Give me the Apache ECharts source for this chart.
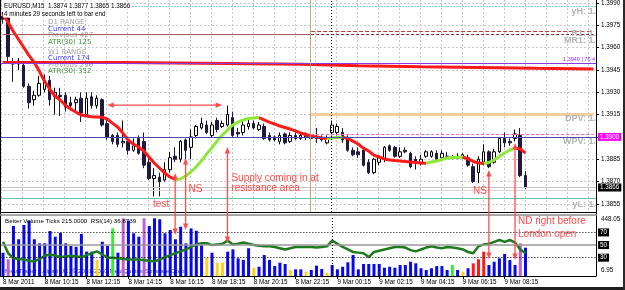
<!DOCTYPE html>
<html>
<head>
<meta charset="utf-8">
<script src="https://cdn.jsdelivr.net/npm/echarts@6.0.0/dist/echarts.min.js"></script>
<style>
html,body{margin:0;padding:0;background:#fff;overflow:hidden}
#chart{width:625px;height:290px}
</style>
</head>
<body>
<div id="chart"></div>
<script>
// ---------------- data ----------------
const xTickLabels = ['8 Mar 2011','8 Mar 10:15','8 Mar 12:15','8 Mar 14:15','8 Mar 16:15','8 Mar 18:15','8 Mar 20:15','8 Mar 22:15','9 Mar 00:15','9 Mar 02:15','9 Mar 04:15','9 Mar 06:15','9 Mar 08:15'];
const priceTickLabels = ['1.3855','1.3870','1.3885','1.3900','1.3915','1.3930','1.3945','1.3960','1.3975','1.3990'];

const open = [1.3981,1.3980,1.3950,1.3949,1.3948,1.3934,1.3925,1.3928,1.3932,1.3938,
 1.3927,1.3928,1.3928,1.3923,1.3923,1.3926,1.3915,1.3927,1.3921,1.3925,
 1.3909,1.3901,1.3901,1.3896,1.3897,1.3891,1.3899,1.3897,1.3883,1.3872,
 1.3873,1.3871,1.3878,1.3887,1.3885,1.3898,1.3893,1.3901,1.3906,1.3908,
 1.3901,1.3911,1.3907,1.3908,1.3913,1.3903,1.3903,1.3907,1.3909,1.3905,
 1.3907,1.3901,1.3900,1.3897,1.3902,1.3897,1.3901,1.3899,1.3900,1.3901,
 1.3900,1.3899,1.3896,1.3903,1.3903,1.3903,1.3899,1.3891,1.3890,1.3891,
 1.3883,1.3876,1.3883,1.3885,1.3894,1.3893,1.3887,1.3891,1.3889,1.3885,
 1.3882,1.3887,1.3887,1.3889,1.3886,1.3887,1.3887,1.3886,1.3886,1.3886,
 1.3880,1.3876,1.3883,1.3890,1.3883,1.3890,1.3899,1.3897,1.3899,1.3901,
 1.3874];
const close = [1.3979,1.3954,1.3949,1.3951,1.3934,1.3923,1.3928,1.3936,1.3938,1.3925,
 1.3930,1.3927,1.3920,1.3921,1.3925,1.3916,1.3926,1.3921,1.3926,1.3908,
 1.3900,1.3897,1.3895,1.3897,1.3891,1.3894,1.3889,1.3881,1.3872,1.3874,
 1.3870,1.3878,1.3886,1.3885,1.3897,1.3891,1.3900,1.3907,1.3909,1.3903,
 1.3908,1.3905,1.3909,1.3915,1.3901,1.3902,1.3908,1.3909,1.3906,1.3908,
 1.3899,1.3898,1.3898,1.3901,1.3896,1.3901,1.3899,1.3901,1.3901,1.3899,
 1.3899,1.3898,1.3899,1.3908,1.3907,1.3898,1.3891,1.3888,1.3888,1.3881,
 1.3876,1.3885,1.3886,1.3893,1.3891,1.3887,1.3890,1.3890,1.3880,1.3883,
 1.3885,1.3890,1.3890,1.3885,1.3889,1.3887,1.3886,1.3887,1.3888,1.3881,
 1.3870,1.3885,1.3890,1.3880,1.3890,1.3899,1.3896,1.3896,1.3902,1.3874,
 1.3866];
const low = [1.3976,1.3950,1.3937,1.3945,1.3933,1.3919,1.3921,1.3927,1.3930,1.3921,
 1.3915,1.3914,1.3917,1.3918,1.3916,1.3910,1.3914,1.3919,1.3919,1.3907,
 1.3898,1.3895,1.3893,1.3893,1.3888,1.3890,1.3888,1.3879,1.3871,1.3860,
 1.3860,1.3870,1.3876,1.3883,1.3883,1.3885,1.3885,1.3899,1.3905,1.3902,
 1.3900,1.3903,1.3906,1.3907,1.3900,1.3900,1.3901,1.3905,1.3905,1.3904,
 1.3898,1.3897,1.3897,1.3895,1.3895,1.3896,1.3898,1.3898,1.3898,1.3898,
 1.3896,1.3897,1.3895,1.3901,1.3901,1.3896,1.3890,1.3887,1.3886,1.3880,
 1.3875,1.3875,1.3881,1.3883,1.3890,1.3886,1.3886,1.3889,1.3879,1.3878,
 1.3881,1.3886,1.3886,1.3884,1.3885,1.3885,1.3885,1.3885,1.3885,1.3880,
 1.3869,1.3869,1.3881,1.3879,1.3882,1.3889,1.3893,1.3894,1.3897,1.3873,
 1.3865];
const high = [1.3984,1.3982,1.3953,1.3953,1.3950,1.3936,1.3931,1.3941,1.3942,1.3941,
 1.3933,1.3933,1.3930,1.3927,1.3927,1.3930,1.3930,1.3930,1.3928,1.3926,
 1.3913,1.3902,1.3903,1.3911,1.3898,1.3899,1.3901,1.3903,1.3886,1.3879,
 1.3876,1.3883,1.3890,1.3893,1.3898,1.3899,1.3905,1.3908,1.3913,1.3911,
 1.3910,1.3913,1.3911,1.3921,1.3917,1.3906,1.3911,1.3913,1.3911,1.3910,
 1.3909,1.3903,1.3901,1.3903,1.3903,1.3903,1.3903,1.3903,1.3903,1.3904,
 1.3906,1.3901,1.3901,1.3911,1.3909,1.3906,1.3901,1.3893,1.3893,1.3893,
 1.3885,1.3886,1.3888,1.3894,1.3895,1.3894,1.3893,1.3893,1.3890,1.3887,
 1.3888,1.3891,1.3891,1.3891,1.3891,1.3890,1.3888,1.3889,1.3889,1.3888,
 1.3882,1.3887,1.3895,1.3891,1.3892,1.3900,1.3903,1.3899,1.3905,1.3906,
 1.3877];
const maValues = [1.39826,1.39772,1.39712,1.39658,1.39604,1.39550,1.39503,1.39443,1.39376,1.39322,
 1.39275,1.39248,1.39214,1.39188,1.39167,1.39147,1.39140,1.39135,1.39134,1.39133,
 1.39120,1.39093,1.39067,1.39026,1.38979,1.38952,1.38932,1.38905,1.38865,1.38825,
 1.38791,1.38757,1.38731,1.38714,1.38717,1.38737,1.38764,1.38798,1.38838,1.38885,
 1.38925,1.38972,1.39013,1.39046,1.39080,1.39100,1.39114,1.39124,1.39127,1.39130,
 1.39114,1.39100,1.39087,1.39073,1.39063,1.39053,1.39040,1.39026,1.39016,1.39006,
 1.38999,1.38993,1.38989,1.38993,1.38996,1.38999,1.38989,1.38972,1.38952,1.38925,
 1.38905,1.38878,1.38865,1.38852,1.38845,1.38841,1.38838,1.38835,1.38831,1.38828,
 1.38825,1.38823,1.38831,1.38838,1.38848,1.38858,1.38862,1.38864,1.38865,1.38852,
 1.38835,1.38825,1.38821,1.38828,1.38845,1.38868,1.38892,1.38912,1.38925,1.38919,
 1.38892];
const slowMaIdx = [0,23,57,68,80,91,102,113];
const slowMaVal = [1.39500,1.39489,1.39478,1.39472,1.39467,1.39461,1.39456,1.39456];

const volume = [178,130,375,277,382,414,277,247,247,338,
 296,325,247,228,222,316,186,186,125,259,
 228,357,178,431,414,321,296,431,375,431,
 424,321,345,277,369,247,357,340,235,140,
 178,105,105,186,203,137,125,211,68,75,
 161,125,80,105,95,51,56,56,39,51,
 83,58,31,88,56,75,108,161,56,95,
 95,95,95,68,75,68,88,88,112,100,
 64,51,64,80,80,51,88,51,39,64,
 100,130,186,88,112,137,169,125,88,247,
 215];
const volumeType = 'bvbbbbbbbb' + 'bbbbbbbbyb' + 'bgbvbbbvbb' + 'bbbbbbbbby' + 'byybbbbbyb' +
                   'bbbbbybbyb' + 'bbybbbbbbb' + 'bbbbbbbbbb' + 'bbbbbbgbyb' + 'rrrbbbbbbv' + 'b';
const rsi = [55,37,29,28,27,25,24,28,33,35,
 33,31,32,33,32,31,34,37,40,35,
 30,30,29,28,27,27,27,26,25,24,
 27,31,34,37,40,43,47,51,53,53,
 50,51,52,57,51,52,54,52,50,49,
 48,48,47,45,43,45,47,47,47,47,
 46,47,48,57,52,47,43,39,38,37,
 31,39,41,43,45,47,47,46,42,40,
 43,46,48,46,45,47,46,45,43,39,
 37,48,51,52,55,58,55,58,54,43,
 37];
const rsiLevels = [70, 50, 30];
const volumeMin = 6.95, volumeMax = 448.05;

// annotation anchors (bar index, price at the candle end, volume at the bar end)
const vArrows = [
  {i: 33, price: 1.38757, vol: 308},
  {i: 35, price: 1.38858, vol: 345},
  {i: 43, price: 1.38932, vol: 250},
  {i: 93, price: 1.38778, vol: 132},
  {i: 98, price: 1.38959, vol: 125}
];
const hArrow = {from: 20, to: 42, price: 1.39214};

// ---------------- helpers ----------------
const BASE = 1.3855, PIP = 10000;
const toY = p => Math.round((p - BASE) * PIP * 1000) / 1000;
const SLOTS = 114;
const cats = Array.from({length: SLOTS}, (_, i) => String(i));
const FONT = '"Liberation Sans", Arial, sans-serif';
const RED = '#ff4b4b';
const VOL_COLORS = {b: '#0808f0', v: '#c060d0', y: '#ffd21a', g: '#33ee33', r: '#ff1a1a'};

const candleData = open.map((o, i) => [toY(o), toY(close[i]), toY(low[i]), toY(high[i])]);
const maRed = maValues.map(() => null), maGreen = maValues.map(() => null);
for (let i = 1; i < maValues.length; i++) {
  const arr = maValues[i] > maValues[i - 1] ? maGreen : maRed;
  arr[i - 1] = toY(maValues[i - 1]);
  arr[i] = toY(maValues[i]);
}
const slowData = slowMaIdx.map((x, k) => [x, toY(slowMaVal[k])]);
const volData = volume.map((v, i) => ({value: v, itemStyle: {color: VOL_COLORS[volumeType[i]]}}));

const seg = (from, to, p, style) => [{coord: [from, toY(p)], lineStyle: style}, {coord: [to, toY(p)]}];

const chart = echarts.init(document.getElementById('chart'));

const option = {
  animation: false,
  backgroundColor: '#ffffff',
  textStyle: {fontFamily: FONT},
  grid: [
    {left: -1.3, top: 0, width: 597.36, height: 226.2},
    {left: 1.32, top: 0, width: 592.12, height: 212},
    {left: -1.3, top: 216, width: 597.36, height: 60}
  ],
  xAxis: [
    {gridIndex: 0, type: 'category', data: cats, boundaryGap: true, show: false},
    {gridIndex: 1, type: 'category', data: cats, boundaryGap: false,
     axisLine: {show: false}, axisTick: {show: false}, axisLabel: {show: false},
     splitLine: {show: true, interval: (i) => i % 4 === 0, lineStyle: {color: '#c9c9c9', type: [2, 2], width: 1}}},
    {gridIndex: 2, type: 'category', data: cats, boundaryGap: true,
     axisLine: {show: true, lineStyle: {color: '#000', width: 1}},
     axisTick: {show: true, alignWithLabel: true, length: 3, interval: (i) => i % 8 === 0 && i / 8 < xTickLabels.length, lineStyle: {color: '#000'}},
     axisLabel: {interval: (i) => i % 8 === 0 && i / 8 < xTickLabels.length,
       formatter: (v, i) => xTickLabels[i / 8] || '', align: 'left', margin: 3, fontSize: 6.3, color: '#000'},
     splitLine: {show: false}}
  ],
  yAxis: [
    {gridIndex: 0, type: 'value', position: 'right', min: -15, max: 137, interval: 15,
     axisLine: {show: true, lineStyle: {color: '#000'}},
     axisTick: {show: true, length: 3, lineStyle: {color: '#000'}},
     axisLabel: {formatter: v => priceTickLabels[Math.round(v / 15)] || '', fontSize: 6.3, color: '#000', margin: 5,
       showMinLabel: false, showMaxLabel: false},
     splitLine: {show: true, showMinLine: false, showMaxLine: false, lineStyle: {color: '#c9c9c9', type: [2, 2], width: 1}}},
    {gridIndex: 1, type: 'value', min: 0, max: 1, show: false},
    {gridIndex: 2, type: 'value', position: 'right', min: volumeMin, max: volumeMax,
     axisLine: {show: true, lineStyle: {color: '#000'}},
     axisTick: {show: false}, splitLine: {show: false},
     axisLabel: {showMinLabel: true, showMaxLabel: true, fontSize: 6.3, color: '#000', margin: 5,
       formatter: v => v === volumeMax ? '{t|' + volumeMax.toFixed(2) + '}' : (v === volumeMin ? '{b|' + volumeMin.toFixed(2) + '}' : ''),
       rich: {t: {fontSize: 6.3, padding: [6, 0, 0, 0]}, b: {fontSize: 6.3, padding: [0, 0, 12, 0]}}}},
    {gridIndex: 2, type: 'value', min: 1, max: 96, show: false}
  ],
  series: [
    {
      name: 'EURUSD', type: 'candlestick', xAxisIndex: 0, yAxisIndex: 0, data: candleData, barWidth: 3,
      itemStyle: {color: '#ffffff', color0: '#221a3e', borderColor: '#000000', borderColor0: '#221a3e', borderWidth: 1},
      markLine: {
        silent: true, symbol: ['none', 'none'], label: {show: false},
        data: [
          {yAxis: toY(1.3988), lineStyle: {color: '#7fcfe6', type: [2, 1], width: 1}},
          seg(59, 113, 1.3971, {color: '#cc3b3b', type: [4, 2], width: 1}),
          seg(0, 59, 1.3969, {color: '#a0625a', type: 'solid', width: 1}),
          seg(59, 113, 1.3969, {color: '#8e2a2a', type: [3, 2], width: 1}),
          {yAxis: toY(1.39493), lineStyle: {color: '#8a3be2', type: 'solid', width: 1},
           label: {show: true, position: 'insideEndTop', formatter: '1.3949 | 76.4', color: '#9933ff', fontSize: 5.5, distance: 1}},
          seg(59, 113, 1.3915, {color: '#f8cd9f', type: 'solid', width: 3}),
          seg(59, 113, 1.3902, {color: '#ff5ccc', type: [3, 2], width: 1}),
          {yAxis: toY(1.3900), lineStyle: {color: '#4b4bab', type: 'solid', width: 1},
           label: {show: true, position: 'end', formatter: '1.3900', backgroundColor: '#ff00ff', color: '#fff', fontSize: 6.3, padding: [1, 2], distance: 2}},
          {yAxis: toY(1.3866), lineStyle: {color: '#c4c4c4', type: 'solid', width: 1},
           label: {show: true, position: 'end', formatter: '1.3866', backgroundColor: '#000', color: '#fff', fontSize: 6.3, padding: [1, 2], distance: 2}},
          {yAxis: toY(1.3864), lineStyle: {color: '#e4d2d2', type: 'solid', width: 1}},
          {yAxis: toY(1.3859), lineStyle: {color: '#6cc3a0', type: 'solid', width: 1}}
        ]
      },
      z: 2
    },
    {name: 'MA down', type: 'line', xAxisIndex: 0, yAxisIndex: 0, data: maRed, showSymbol: false, connectNulls: false,
     lineStyle: {color: '#ff1a1a', width: 3}, z: 4},
    {name: 'MA up', type: 'line', xAxisIndex: 0, yAxisIndex: 0, data: maGreen, showSymbol: false, connectNulls: false,
     lineStyle: {color: '#8ee83a', width: 3}, z: 4},
    {name: 'Slow MA', type: 'line', xAxisIndex: 0, yAxisIndex: 0, data: slowData, step: 'end', showSymbol: false,
     lineStyle: {color: '#ff1a1a', width: 3}, z: 3},
    {name: 'separators', type: 'line', xAxisIndex: 1, yAxisIndex: 1, data: [], silent: true,
     markLine: {silent: true, symbol: ['none', 'none'], label: {show: false},
       data: [
         {xAxis: 59, lineStyle: {color: '#b9ad74', type: 'solid', width: 1}},
         {xAxis: 63, lineStyle: {color: '#000', type: [1, 2], width: 1}}
       ]}},
    {name: 'Better Volume', type: 'bar', xAxisIndex: 2, yAxisIndex: 2, data: volData, barWidth: 3, z: 2},
    {name: 'RSI', type: 'line', xAxisIndex: 2, yAxisIndex: 3, data: rsi, showSymbol: false,
     lineStyle: {color: '#1f7a1f', width: 2.5}, z: 4,
     markLine: {silent: true, symbol: ['none', 'none'],
       data: rsiLevels.map(l => ({yAxis: l,
         lineStyle: l === 50 ? {color: '#9a9a9a', type: 'solid', width: 1.5} : {color: '#000', type: [1, 2], width: 1},
         label: {show: true, position: 'end', formatter: String(l), backgroundColor: '#000', color: '#fff', fontSize: 6.3, padding: [1, 2], distance: 2}}))
         .concat([{xAxis: 63, lineStyle: {color: '#000', type: [1, 2], width: 1}, label: {show: false}}])}}
  ]
};
chart.setOption(option);

// ---------------- annotations ----------------
const txt = (text, x, y, style, z) => ({type: 'text', x, y, silent: true, z: z == null ? 100 : z,
  style: Object.assign({text, fill: '#000', fontSize: 6.3, fontFamily: FONT, align: 'left', verticalAlign: 'middle'}, style || {})});
const pA = (i, p) => chart.convertToPixel({seriesIndex: 0}, [i, toY(p)]);
const pC = (i, v) => chart.convertToPixel({seriesIndex: 5}, [i, v]);

const g = [];
// frame and pane separator
g.push({type: 'line', z: 100, shape: {x1: 0.5, y1: 0, x2: 0.5, y2: 277}, style: {stroke: '#000', lineWidth: 1}});
g.push({type: 'line', z: 100, shape: {x1: 0, y1: 212.5, x2: 597, y2: 212.5}, style: {stroke: '#000', lineWidth: 1}});
g.push({type: 'line', z: 100, shape: {x1: 0, y1: 215, x2: 597, y2: 215}, style: {stroke: '#8a8a8a', lineWidth: 1.5}});
g.push({type: 'rect', z: 100, shape: {x: 0, y: 287, width: 625, height: 3}, style: {fill: '#1e1e1e'}});
g.push({type: 'rect', z: 100, shape: {x: 623, y: 0, width: 2, height: 290}, style: {fill: '#2a2a2a'}});

// header texts
g.push(txt('EURUSD,M15  1.3874 1.3877 1.3865 1.3866', 3, 6, {backgroundColor: '#fff', padding: [0, 1]}));
g.push(txt('4 minutes 29 seconds left to bar end', 3, 14.5, {backgroundColor: '#fff', padding: [0, 1]}));

// range info block
const INFO = '"DejaVu Sans", sans-serif';
[['D1 RANGE', 22.3, '#a3a3a3'], ['Current 44', 29, '#3c3cff'], ['Previous 427', 35.5, '#a3a3a3'], ['ATR(30) 125', 42.3, '#3a9a3a'],
 ['W1 RANGE', 51.7, '#a3a3a3'], ['Current 174', 57.7, '#3c3cff'], ['Previous 296', 65, '#a3a3a3'], ['ATR(30) 352', 70.7, '#3a9a3a']]
  .forEach(r => g.push(txt(r[0], 48, r[1], {fill: r[2], fontSize: 7, fontFamily: INFO}, 1)));

// pivot labels on the right (cut by the price scale)
[['yH: 1.', 12], ['R1: 1.', 34], ['MR1: 1.', 40.5], ['DPV: 1.', 118.5], ['WPV: 1.', 141.5], ['yL: 1.', 205]]
  .forEach(r => g.push(txt(r[0], 596, r[1], {fill: '#b4b4b4', fontSize: 9, fontWeight: 'bold', align: 'right'}, 5)));

// volume pane texts
g.push(txt('Better Volume Ticks 215.0000  RSI(14) 36.8739', 5, 221.5, {fontSize: 6.2}));
g.push(txt('MetaTrader - Alpari UK, \u00a9 2001-2010 MetaQuotes Software Corp.', 5, 271.5, {fontSize: 6.2, fill: '#3b3b66'}, 1));

// arrows
const arrowX = {};
vArrows.forEach(a => {
  const [x, y1] = pA(a.i, a.price);
  const y2 = pC(a.i, a.vol)[1];
  arrowX[a.i] = x;
  g.push({type: 'line', z: 110, shape: {x1: x, y1: y1 + 5, x2: x, y2: y2 - 5}, style: {stroke: RED, lineWidth: 1.3}});
  g.push({type: 'polygon', z: 110, shape: {points: [[x, y1], [x - 2.6, y1 + 6.5], [x + 2.6, y1 + 6.5]]}, style: {fill: RED}});
  g.push({type: 'polygon', z: 110, shape: {points: [[x, y2], [x - 2.6, y2 - 6.5], [x + 2.6, y2 - 6.5]]}, style: {fill: RED}});
});
{
  const [xa, y] = pA(hArrow.from, hArrow.price);
  const xb = pA(hArrow.to, hArrow.price)[0];
  g.push({type: 'line', z: 110, shape: {x1: xa + 5, y1: y, x2: xb - 5, y2: y}, style: {stroke: RED, lineWidth: 1.3}});
  g.push({type: 'polygon', z: 110, shape: {points: [[xa, y], [xa + 6.5, y - 2.6], [xa + 6.5, y + 2.6]]}, style: {fill: RED}});
  g.push({type: 'polygon', z: 110, shape: {points: [[xb, y], [xb - 6.5, y - 2.6], [xb - 6.5, y + 2.6]]}, style: {fill: RED}});
}
// annotation texts
const red = (t, x, y, align) => g.push(txt(t, x, y, {fill: RED, fontSize: 10, align: align || 'left'}, 110));
red('test', arrowX[33] - 6, 204, 'right');
red('NS', arrowX[35] + 3, 189.5);
red('Supply coming in at', arrowX[43] + 4, 178.5);
red('resistance area', arrowX[43] + 4, 188.5);
red('NS', arrowX[93] - 2, 191.5, 'right');
red('ND right before', arrowX[98] + 3, 221.5);
red('London open', arrowX[98] + 3, 234);

chart.setOption({graphic: g});
</script>
</body>
</html>
